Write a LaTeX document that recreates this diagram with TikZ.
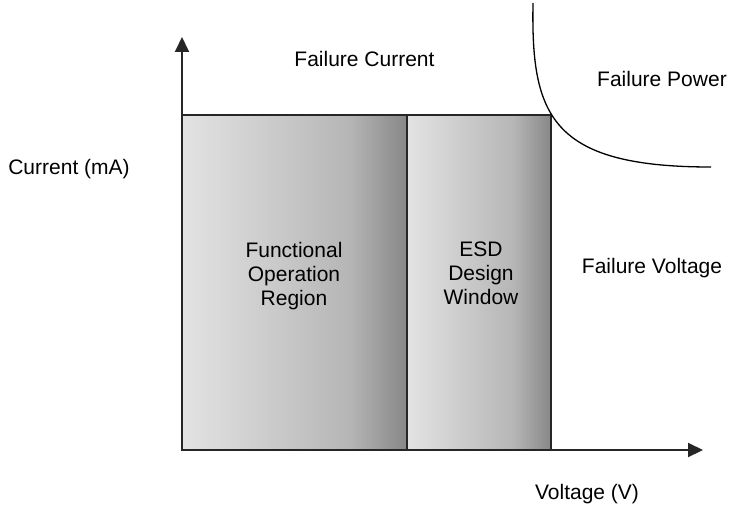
\documentclass[tikz,border=0pt]{standalone}
\usepackage{fontspec}
\setmainfont{Liberation Sans}
\usetikzlibrary{arrows.meta}
\definecolor{sczero}{HTML}{E3E3E3}
\definecolor{scone}{HTML}{B6B6B6}
\definecolor{sctwo}{HTML}{878787}
\pgfdeclarehorizontalshading{boxshade}{100bp}{color(0bp)=(sczero); color(25bp)=(sczero); color(62bp)=(scone); color(75bp)=(sctwo); color(100bp)=(sctwo)}
\tikzset{
  lbl/.style={font=\fontsize{21pt}{24pt}\selectfont, inner sep=0pt, text=black},
  region/.style={draw=black!85, line width=2pt, shading=boxshade},
  axis/.style={line width=2pt, draw=black!85, -{Triangle[length=15pt,width=14pt]}},
  curve/.style={line width=1.3pt, draw=black}
}
\begin{document}
\begin{tikzpicture}[x=1pt,y=-1pt]
\useasboundingbox (0,0) rectangle (730,508);
% regions
\path[region] (182,115) rectangle (407,450);
\path[region] (407,115) rectangle (551,450);
% axes
\coordinate (origin) at (182,450);
\coordinate (ytip) at (182,37);
\coordinate (xtip) at (703,450);
\draw[axis] (origin) -- (ytip);
\draw[axis] (origin) -- (xtip);
% failure power curve
\coordinate (cstart) at (533,3);
\coordinate (cend) at (711,167);
\draw[curve] (cstart) .. controls (531,115) and (550,167) .. (cend);
% labels
\node[lbl, anchor=base] (fc) at (364.5,67) {Failure Current};
\node[lbl, anchor=base] (fp) at (662,87) {Failure Power};
\node[lbl, anchor=base] (cur) at (69,174) {Current (mA)};
\node[lbl, anchor=base] (fv) at (652,273) {Failure Voltage};
\node[lbl, anchor=base] (vol) at (587,499) {Voltage (V)};
\node[lbl, anchor=north, align=center] (fo) at (294,242) {Functional\\Operation\\Region};
\node[lbl, anchor=north, align=center] (esd) at (481,242) {ESD\\Design\\Window};
\end{tikzpicture}
\end{document}
